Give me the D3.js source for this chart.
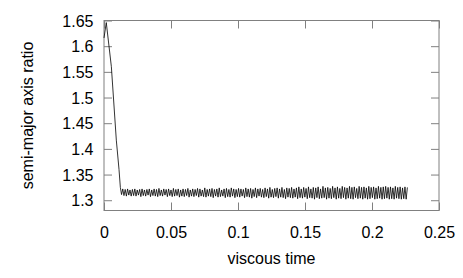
<!DOCTYPE html>
<html>
<head>
<meta charset="utf-8">
<script src="https://cdn.jsdelivr.net/npm/d3@7"></script>
<style>
  html, body { margin: 0; padding: 0; background: #fff; }
  svg text { font-family: "Liberation Sans", Arial, sans-serif; fill: #000; }
</style>
</head>
<body>
<svg id="chart" width="463" height="278"></svg>
<script>
// x ticks / y ticks
const xTicks = [0, 0.05, 0.1, 0.15, 0.2, 0.25]
const yTicks = [1.3, 1.35, 1.4, 1.45, 1.5, 1.55, 1.6, 1.65]

// viscous time
const time = [
  0, 0.0017, 0.0055, 0.0092, 0.0112, 0.0122,
  0.0131, 0.0140, 0.0149, 0.0158, 0.0167, 0.0176, 0.0185, 0.0194, 0.0203, 0.0212,
  0.0221, 0.0230, 0.0239, 0.0248, 0.0257, 0.0266, 0.0275, 0.0284, 0.0293, 0.0302,
  0.0311, 0.0320, 0.0329, 0.0338, 0.0347, 0.0356, 0.0365, 0.0374, 0.0383, 0.0392,
  0.0401, 0.0410, 0.0419, 0.0428, 0.0437, 0.0446, 0.0455, 0.0464, 0.0473, 0.0482,
  0.0491, 0.0500, 0.0509, 0.0518, 0.0527, 0.0536, 0.0545, 0.0554, 0.0563, 0.0572,
  0.0581, 0.0590, 0.0599, 0.0608, 0.0617, 0.0626, 0.0635, 0.0644, 0.0653, 0.0662,
  0.0671, 0.0680, 0.0689, 0.0698, 0.0707, 0.0716, 0.0725, 0.0734, 0.0743, 0.0752,
  0.0761, 0.0770, 0.0779, 0.0788, 0.0797, 0.0806, 0.0815, 0.0824, 0.0833, 0.0842,
  0.0851, 0.0860, 0.0869, 0.0878, 0.0887, 0.0896, 0.0905, 0.0914, 0.0923, 0.0932,
  0.0941, 0.0950, 0.0959, 0.0968, 0.0977, 0.0986, 0.0995, 0.1004, 0.1013, 0.1022,
  0.1031, 0.1040, 0.1049, 0.1058, 0.1067, 0.1076, 0.1085, 0.1094, 0.1103, 0.1112,
  0.1121, 0.1130, 0.1139, 0.1148, 0.1157, 0.1166, 0.1175, 0.1184, 0.1193, 0.1202,
  0.1211, 0.1220, 0.1229, 0.1238, 0.1247, 0.1256, 0.1265, 0.1274, 0.1283, 0.1292,
  0.1301, 0.1310, 0.1319, 0.1328, 0.1337, 0.1346, 0.1355, 0.1364, 0.1373, 0.1382,
  0.1391, 0.1400, 0.1409, 0.1418, 0.1427, 0.1436, 0.1445, 0.1454, 0.1463, 0.1472,
  0.1481, 0.1490, 0.1499, 0.1508, 0.1517, 0.1526, 0.1535, 0.1544, 0.1553, 0.1562,
  0.1571, 0.1580, 0.1589, 0.1598, 0.1607, 0.1616, 0.1625, 0.1634, 0.1643, 0.1652,
  0.1661, 0.1670, 0.1679, 0.1688, 0.1697, 0.1706, 0.1715, 0.1724, 0.1733, 0.1742,
  0.1751, 0.1760, 0.1769, 0.1778, 0.1787, 0.1796, 0.1805, 0.1814, 0.1823, 0.1832,
  0.1841, 0.1850, 0.1859, 0.1868, 0.1877, 0.1886, 0.1895, 0.1904, 0.1913, 0.1922,
  0.1931, 0.1940, 0.1949, 0.1958, 0.1967, 0.1976, 0.1985, 0.1994, 0.2003, 0.2012,
  0.2021, 0.2030, 0.2039, 0.2048, 0.2057, 0.2066, 0.2075, 0.2084, 0.2093, 0.2102,
  0.2111, 0.2120, 0.2129, 0.2138, 0.2147, 0.2156, 0.2165, 0.2174, 0.2183, 0.2192,
  0.2201, 0.2210, 0.2219, 0.2228, 0.2237, 0.2246, 0.2255, 0.2264
]

// semi-major axis ratio
const ratio = [
  1.616, 1.646, 1.560, 1.417, 1.360, 1.325,
  1.311, 1.322, 1.309, 1.321, 1.308, 1.322, 1.310, 1.320, 1.308, 1.321,
  1.309, 1.322, 1.308, 1.320, 1.310, 1.321, 1.307, 1.322, 1.309, 1.320,
  1.308, 1.321, 1.310, 1.322, 1.307, 1.320, 1.309, 1.322, 1.308, 1.321,
  1.307, 1.323, 1.309, 1.320, 1.308, 1.322, 1.310, 1.321, 1.307, 1.322,
  1.309, 1.320, 1.307, 1.323, 1.308, 1.321, 1.309, 1.322, 1.306, 1.320,
  1.308, 1.322, 1.307, 1.321, 1.309, 1.323, 1.306, 1.320, 1.308, 1.322,
  1.307, 1.321, 1.309, 1.323, 1.306, 1.322, 1.308, 1.320, 1.307, 1.324,
  1.306, 1.321, 1.308, 1.322, 1.307, 1.323, 1.305, 1.321, 1.308, 1.322,
  1.306, 1.324, 1.307, 1.320, 1.308, 1.322, 1.305, 1.323, 1.307, 1.321,
  1.306, 1.324, 1.308, 1.322, 1.305, 1.321, 1.307, 1.323, 1.306, 1.322,
  1.308, 1.321, 1.305, 1.324, 1.307, 1.322, 1.306, 1.323, 1.304, 1.321,
  1.307, 1.324, 1.305, 1.322, 1.308, 1.323, 1.306, 1.321, 1.305, 1.324,
  1.307, 1.322, 1.304, 1.325, 1.306, 1.321, 1.305, 1.323, 1.307, 1.324,
  1.304, 1.322, 1.306, 1.325, 1.305, 1.321, 1.303, 1.324, 1.306, 1.323,
  1.305, 1.325, 1.304, 1.322, 1.306, 1.324, 1.303, 1.326, 1.305, 1.322,
  1.304, 1.325, 1.306, 1.323, 1.303, 1.326, 1.305, 1.322, 1.304, 1.325,
  1.302, 1.324, 1.305, 1.326, 1.303, 1.322, 1.304, 1.327, 1.305, 1.324,
  1.302, 1.325, 1.304, 1.323, 1.303, 1.327, 1.305, 1.324, 1.302, 1.326,
  1.304, 1.323, 1.303, 1.327, 1.305, 1.325, 1.302, 1.324, 1.304, 1.327,
  1.303, 1.325, 1.302, 1.326, 1.305, 1.323, 1.303, 1.327, 1.304, 1.325,
  1.302, 1.326, 1.304, 1.324, 1.302, 1.327, 1.303, 1.325, 1.305, 1.326,
  1.302, 1.324, 1.303, 1.327, 1.304, 1.325, 1.302, 1.326, 1.303, 1.327,
  1.304, 1.325, 1.302, 1.326, 1.303, 1.324, 1.302, 1.327, 1.304, 1.325,
  1.303, 1.326, 1.302, 1.324, 1.303, 1.326, 1.302, 1.325
]

const svg = d3.select('#chart')
const plot = { left: 104, right: 439, top: 20.5, bottom: 210.5 }

const x = d3.scaleLinear().domain([0, 0.25]).range([plot.left, plot.right])
const y = d3.scaleLinear().domain([1.28, 1.65]).range([plot.bottom, plot.top])

const tickLen = 8
const gridColor = '#808080'
const fontSize = '16px'

// frame
svg.append('rect')
  .attr('x', plot.left).attr('y', plot.top)
  .attr('width', plot.right - plot.left).attr('height', plot.bottom - plot.top)
  .attr('fill', 'none').attr('stroke', gridColor).attr('stroke-width', 1)

const fmt = d => String(+d.toFixed(2))

// x axis (bottom + mirrored top), ticks inward
const xAxisB = svg.append('g').attr('transform', `translate(0,${plot.bottom})`)
  .call(d3.axisBottom(x).tickValues(xTicks).tickSize(-tickLen).tickFormat(fmt))
const xAxisT = svg.append('g').attr('transform', `translate(0,${plot.top})`)
  .call(d3.axisTop(x).tickValues(xTicks).tickSize(-tickLen).tickFormat(''))

// y axis (left + mirrored right)
const yAxisL = svg.append('g').attr('transform', `translate(${plot.left},0)`)
  .call(d3.axisLeft(y).tickValues(yTicks).tickSize(-tickLen).tickFormat(fmt))
const yAxisR = svg.append('g').attr('transform', `translate(${plot.right},0)`)
  .call(d3.axisRight(y).tickValues(yTicks).tickSize(-tickLen).tickFormat(''))

;[xAxisB, xAxisT, yAxisL, yAxisR].forEach(g => {
  g.select('.domain').remove()
  g.selectAll('line').attr('stroke', gridColor)
  g.selectAll('text').style('font-size', fontSize).attr('fill', '#000')
})
xAxisB.selectAll('text').attr('dy', null).attr('y', 27.5)
yAxisL.selectAll('text').attr('dy', '0.35em').attr('x', -10.5)

// the line
const line = d3.line()
  .x((d, i) => x(time[i]))
  .y(d => y(d))

svg.append('path')
  .datum(ratio)
  .attr('d', line)
  .attr('fill', 'none')
  .attr('stroke', '#000')
  .attr('stroke-width', 0.8)

// axis labels
svg.append('text')
  .attr('x', (plot.left + plot.right) / 2)
  .attr('y', 264)
  .attr('text-anchor', 'middle')
  .style('font-size', fontSize)
  .text('viscous time')

svg.append('text')
  .attr('transform', `translate(33,${(plot.top + plot.bottom) / 2}) rotate(-90)`)
  .attr('text-anchor', 'middle')
  .style('font-size', fontSize)
  .text('semi-major axis ratio')
</script>
</body>
</html>
